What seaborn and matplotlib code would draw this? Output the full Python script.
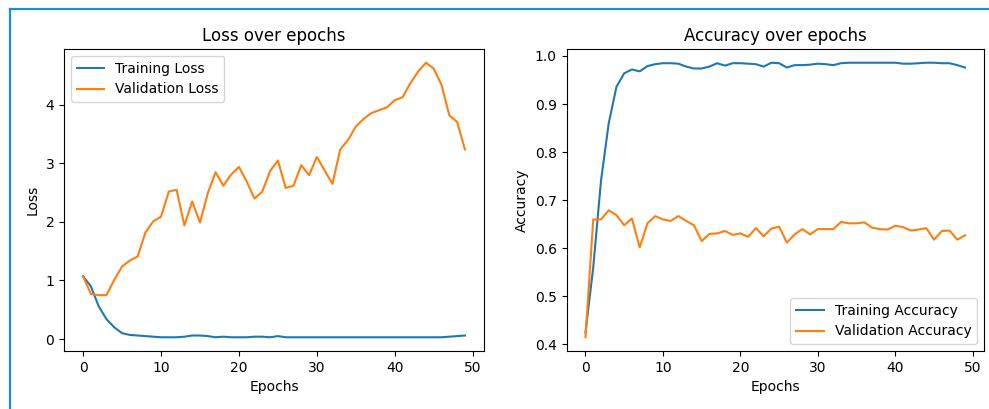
import numpy as np
import seaborn as sns
import matplotlib.pyplot as plt
from matplotlib.lines import Line2D

epochs = np.arange(50)

train_loss = [1.07, 0.90, 0.56, 0.34, 0.20, 0.10, 0.07, 0.06, 0.05, 0.04,
              0.03, 0.03, 0.03, 0.04, 0.06, 0.06, 0.05, 0.03, 0.04, 0.03,
              0.03, 0.03, 0.04, 0.04, 0.03, 0.05, 0.03, 0.03, 0.03, 0.03,
              0.03, 0.03, 0.03, 0.03, 0.03, 0.03, 0.03, 0.03, 0.03, 0.03,
              0.03, 0.03, 0.03, 0.03, 0.03, 0.03, 0.03, 0.04, 0.05, 0.06]
val_loss = [1.07, 0.77, 0.75, 0.75, 1.01, 1.24, 1.34, 1.41, 1.82, 2.01,
            2.09, 2.52, 2.55, 1.94, 2.35, 1.99, 2.49, 2.85, 2.62, 2.81,
            2.94, 2.69, 2.40, 2.52, 2.87, 3.05, 2.58, 2.62, 2.97, 2.80,
            3.11, 2.88, 2.65, 3.24, 3.40, 3.63, 3.76, 3.86, 3.91, 3.96,
            4.08, 4.13, 4.37, 4.57, 4.72, 4.62, 4.34, 3.82, 3.71, 3.24]

train_acc = [0.425, 0.56, 0.74, 0.86, 0.936, 0.964, 0.972, 0.968, 0.979, 0.983,
             0.985, 0.985, 0.984, 0.978, 0.974, 0.974, 0.978, 0.985, 0.980, 0.985,
             0.985, 0.984, 0.983, 0.978, 0.986, 0.985, 0.976, 0.981, 0.981, 0.982,
             0.984, 0.983, 0.981, 0.985, 0.986, 0.986, 0.986, 0.986, 0.986, 0.986,
             0.986, 0.984, 0.984, 0.985, 0.986, 0.986, 0.985, 0.985, 0.981, 0.976]
val_acc = [0.415, 0.660, 0.660, 0.679, 0.669, 0.648, 0.662, 0.602, 0.652, 0.667,
           0.660, 0.657, 0.667, 0.657, 0.648, 0.615, 0.630, 0.631, 0.636, 0.628,
           0.631, 0.624, 0.642, 0.625, 0.641, 0.645, 0.612, 0.629, 0.640, 0.629,
           0.640, 0.640, 0.640, 0.655, 0.652, 0.652, 0.654, 0.643, 0.640, 0.639,
           0.647, 0.644, 0.637, 0.639, 0.642, 0.618, 0.636, 0.637, 0.618, 0.627]

W, H = 989, 409
fig = plt.figure(figsize=(W / 100, H / 100), dpi=100)
ax1 = fig.add_axes([64 / W, (H - 351) / H, 420 / W, 302 / H])
ax2 = fig.add_axes([566.5 / W, (H - 351) / H, 417.5 / W, 302 / H])

sns.lineplot(x=epochs, y=train_loss, label='Training Loss', ax=ax1)
sns.lineplot(x=epochs, y=val_loss, label='Validation Loss', ax=ax1)
ax1.set_title('Loss over epochs')
ax1.set_xlabel('Epochs')
ax1.set_ylabel('Loss')
ax1.legend(loc='upper left')

sns.lineplot(x=epochs, y=train_acc, label='Training Accuracy', ax=ax2)
sns.lineplot(x=epochs, y=val_acc, label='Validation Accuracy', ax=ax2)
ax2.set_title('Accuracy over epochs')
ax2.set_xlabel('Epochs')
ax2.set_ylabel('Accuracy')
ax2.legend(loc='lower right')

# blue frame from the notebook screenshot
frame = '#1e8cd0'
fig.add_artist(Line2D([10 / W, 1], [1 - 9 / H, 1 - 9 / H], color=frame, lw=1.6,
                      transform=fig.transFigure))
fig.add_artist(Line2D([10 / W, 10 / W], [0, 1 - 9 / H], color=frame, lw=1.6,
                      transform=fig.transFigure))

fig.savefig('out.png', dpi=100)
